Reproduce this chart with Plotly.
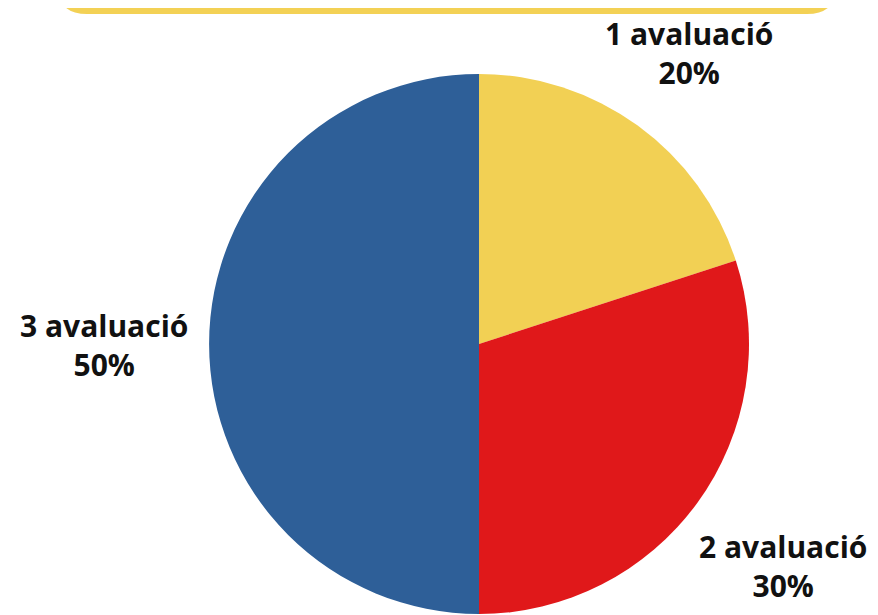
import plotly.graph_objects as go

labels = ["1 avaluació", "2 avaluació", "3 avaluació"]
values = [20, 30, 50]
colors = ["#F2D054", "#E0181A", "#2E5F98"]

W, H = 878, 615
OFF = 8  # page body margin offset compensation (px)

def px(x):
    return (x - OFF) / W

def py(y):
    return 1 - (y - OFF) / H

# label block centre positions (screen px)
label_pos = [(689, 53), (783, 566), (104, 345)]

fig = go.Figure()
fig.add_trace(go.Pie(
    labels=labels, values=values, sort=False, direction="clockwise", rotation=0,
    marker=dict(colors=colors, line=dict(width=0)),
    textinfo="none", hoverinfo="label+percent", showlegend=False,
    domain=dict(x=[px(209), px(749)], y=[py(614), py(74)]),
))

total = sum(values)
font = dict(family="Open Sans", size=30, color="#111111")
for lab, val, (x, y) in zip(labels, values, label_pos):
    fig.add_annotation(
        x=px(x), y=py(y), xref="paper", yref="paper", showarrow=False,
        text=f"<b>{lab}<br>{round(val / total * 100)}%</b>", font=font,
        align="center", xanchor="center", yanchor="middle",
    )

# yellow rounded banner at top (partially cut off)
x0, x1 = px(57), px(837)
yb = py(14)
rx, ry = 30 / W, 30 / H
ytop = 1.3
path = (f"M {x0} {ytop} L {x0} {yb + ry} Q {x0} {yb} {x0 + rx} {yb} "
        f"L {x1 - rx} {yb} Q {x1} {yb} {x1} {yb + ry} L {x1} {ytop} Z")
fig.add_shape(type="path", path=path, xref="paper", yref="paper",
              fillcolor="#F3D155", line=dict(width=0), layer="below")

fig.update_layout(
    width=W, height=H, margin=dict(l=0, r=0, t=0, b=0),
    paper_bgcolor="white", plot_bgcolor="white",
)
fig.write_html("out.html")
